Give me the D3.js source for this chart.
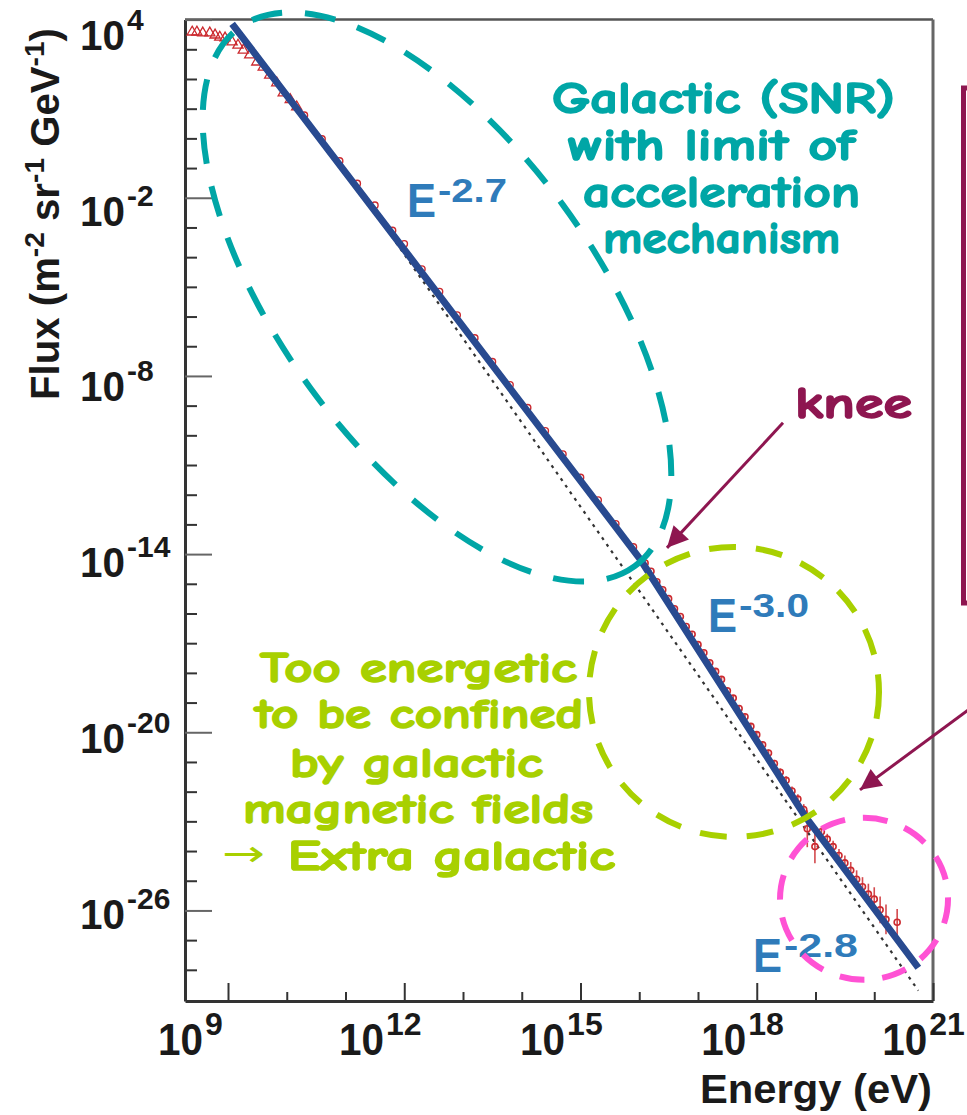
<!DOCTYPE html>
<html><head><meta charset="utf-8">
<script src="https://cdn.jsdelivr.net/npm/d3@7"></script>
<style>html,body{margin:0;padding:0;background:#fff;} svg{display:block;}</style>
</head><body>
<svg id="c" width="967" height="1115"></svg>
<script>
// ---------------- data (log10 values) ----------------
const xTickExps = [9, 12, 15, 18, 21];
const yTickExps = [4, -2, -8, -14, -20, -26];

// broken power-law fit (blue)
const fitLogE = [9.07, 16.005, 18.82, 20.75];
const fitLogF = [3.86, -14.14, -22.82, -27.93];

// reference single power law (dotted)
const refLogE = [11.0, 20.75];
const refLogF = [-1.07, -28.7];

// low-energy measurements (open triangles)
const lowLogE = [8.39, 8.47, 8.57, 8.69, 8.78, 8.86, 8.95, 9.07, 9.17, 9.26, 9.37, 9.49, 9.60, 9.71, 9.83, 9.94, 10.06, 10.17];
const lowLogF = [3.58, 3.58, 3.55, 3.55, 3.48, 3.41, 3.38, 3.25, 3.14, 2.97, 2.81, 2.57, 2.40, 2.13, 1.87, 1.53, 1.30, 1.06];

// mid-energy measurements (open circles)
const midLogE = [10.3, 10.6, 10.9, 11.2, 11.5, 11.8, 12.0, 12.3, 12.6, 12.9, 13.2, 13.5, 13.8, 14.1, 14.4, 14.7, 15.0, 15.3, 15.6, 15.9];
const midLogF = [0.78, -0.02, -0.76, -1.52, -2.25, -3.10, -3.55, -4.40, -5.16, -5.95, -6.72, -7.52, -8.30, -9.07, -9.85, -10.63, -11.42, -12.18, -12.98, -13.76];

// high-energy measurements with error bars
const hiLogE = [16.1, 16.2, 16.3, 16.4, 16.5, 16.6, 16.7, 16.8, 16.9, 17.0,
                17.1, 17.2, 17.3, 17.4, 17.5, 17.6, 17.7, 17.8, 17.9, 18.0,
                18.1, 18.2, 18.3, 18.4, 18.5, 18.6, 18.7, 18.8,
                18.86, 18.99, 19.1, 19.2, 19.3, 19.4, 19.5, 19.6, 19.7, 19.8, 19.9, 20.0, 20.1, 20.2, 20.39];
const hiLogF = [-14.30, -14.58, -14.93, -15.20, -15.50, -15.84, -16.10, -16.44, -16.70, -17.05,
                -17.32, -17.66, -17.95, -18.22, -18.60, -18.85, -19.20, -19.48, -19.80, -20.08,
                -20.42, -20.70, -21.05, -21.35, -21.62, -21.98, -22.25, -22.60,
                -23.25, -23.85, -23.35, -23.60, -23.85, -24.15, -24.40, -24.65, -24.95, -25.20, -25.45, -25.62, -25.98, -26.30, -26.40];
const hiErr  = [0.04, 0.04, 0.05, 0.05, 0.05, 0.06, 0.06, 0.06, 0.07, 0.07,
                0.07, 0.08, 0.08, 0.08, 0.09, 0.09, 0.10, 0.10, 0.10, 0.11,
                0.11, 0.12, 0.12, 0.13, 0.14, 0.15, 0.16, 0.18,
                0.62, 0.56, 0.15, 0.18, 0.20, 0.22, 0.25, 0.28, 0.30, 0.32, 0.35, 0.40, 0.45, 0.50, 0.45];

const slopeLabels = ["-2.7", "-3.0", "-2.8"];
const slopeLogE = [12.047, 17.17, 17.936];
const slopeLogF = [-2.646, -16.62, -28.07];

const tealLines = ["Galactic (SNR)", "with limit of", "acceleration", "mechanism"];
const greenLines = ["Too energetic", "to be confined", "by galactic", "magnetic fields", "Extra galactic"];

// ---------------- drawing ----------------
const svg = d3.select("#c");
const P = e => Math.pow(10, e);
const x = d3.scaleLog().domain([P(8.268), P(21)]).range([185, 933]);
const y = d3.scaleLog().domain([P(-29.05), P(4)]).range([1001, 19.6]);
const X = e => x(P(e)), Y = f => y(P(f));

const axisCol = "#333";
const RED = "#cc2a2f";
const BLUE = "#284a90";
const TEAL = "#00a6a6";
const GREEN = "#a8d000";
const PINK = "#ff52d4";
const MAROON = "#8e1650";
const LBLUE = "#2f7bba";
const annFont = "'Comic Sans MS','Comic Neue',Lato,'Open Sans',sans-serif";
const axFont = "'Liberation Sans',Arial,Helvetica,sans-serif";

// frame top & right
svg.append("line").attr("x1", 185).attr("x2", 933).attr("y1", 19.6).attr("y2", 19.6).attr("stroke", "#555").attr("stroke-width", 2.5);
svg.append("line").attr("x1", 933).attr("x2", 933).attr("y1", 19.6).attr("y2", 1001).attr("stroke", "#666").attr("stroke-width", 3);

// axes ticks
const xMinor = d3.range(9, 22).filter(e => !xTickExps.includes(e)).map(P);
const yMinor = d3.range(-28, 5).filter(e => !yTickExps.includes(e)).map(P);

function styleAxis(g) {
  g.selectAll("line").attr("stroke", axisCol).attr("stroke-width", 2);
  g.selectAll(".domain").attr("stroke", axisCol).attr("stroke-width", 3);
  g.selectAll("text").remove();
}
svg.append("g").attr("transform", "translate(0,1001)")
  .call(d3.axisBottom(x).tickValues(xTickExps.map(P)).tickSize(-18).tickSizeOuter(0).tickFormat(""))
  .call(styleAxis);
svg.append("g").attr("transform", "translate(0,1001)")
  .call(d3.axisBottom(x).tickValues(xMinor).tickSize(-9).tickSizeOuter(0).tickFormat(""))
  .call(styleAxis).call(g => g.select(".domain").remove());
svg.append("g").attr("transform", "translate(185,0)")
  .call(d3.axisLeft(y).tickValues(yTickExps.map(P)).tickSize(-27).tickSizeOuter(0).tickFormat(""))
  .call(styleAxis).call(g => g.selectAll(".tick line").attr("stroke", "#666"));
svg.append("g").attr("transform", "translate(185,0)")
  .call(d3.axisLeft(y).tickValues(yMinor).tickSize(-12).tickSizeOuter(0).tickFormat(""))
  .call(styleAxis).call(g => g.select(".domain").remove());

// tick labels
xTickExps.forEach(e => {
  const lx = X(e) - 70 + (e - 9) * 1.6;
  svg.append("text").attr("x", lx).attr("y", 1055).attr("font-family", axFont).attr("font-weight", "bold")
    .attr("font-size", 44).attr("fill", "#1a1a1a").attr("textLength", 45).attr("lengthAdjust", "spacingAndGlyphs").text("10");
  svg.append("text").attr("x", lx + 47).attr("y", 1035).attr("font-family", axFont).attr("font-weight", "bold")
    .attr("font-size", 32).attr("fill", "#1a1a1a").text(String(e));
});
yTickExps.forEach(e => {
  const by = Y(e) + 30 - (4 - e) * 0.37;
  svg.append("text").attr("x", 80).attr("y", by).attr("font-family", axFont).attr("font-weight", "bold")
    .attr("font-size", 42).attr("fill", "#1a1a1a").attr("textLength", 45).attr("lengthAdjust", "spacingAndGlyphs").text("10");
  svg.append("text").attr("x", 127).attr("y", by - 20).attr("font-family", axFont).attr("font-weight", "bold")
    .attr("font-size", 30).attr("fill", "#1a1a1a").text(String(e));
});

// axis titles
const yt = svg.append("text").attr("transform", "translate(59,400) rotate(-90)")
  .attr("font-family", axFont).attr("font-weight", "bold").attr("font-size", 40).attr("fill", "#1a1a1a")
  .attr("textLength", 372).attr("lengthAdjust", "spacingAndGlyphs");
yt.append("tspan").text("Flux (m");
yt.append("tspan").attr("dy", -15).attr("font-size", 28).text("-2");
yt.append("tspan").attr("dy", 15).text(" sr");
yt.append("tspan").attr("dy", -15).attr("font-size", 28).text("-1");
yt.append("tspan").attr("dy", 15).text(" GeV");
yt.append("tspan").attr("dy", -15).attr("font-size", 28).text("-1");
yt.append("tspan").attr("dy", 15).text(")");
svg.append("text").attr("x", 700).attr("y", 1103).attr("font-family", axFont).attr("font-weight", "bold")
  .attr("font-size", 40).attr("fill", "#1a1a1a").attr("textLength", 232).attr("lengthAdjust", "spacingAndGlyphs").text("Energy (eV)");

// clip for plot marks
svg.append("clipPath").attr("id", "plotclip").append("rect").attr("x", 185).attr("y", 19.6).attr("width", 748).attr("height", 981.4);
const plot = svg.append("g").attr("clip-path", "url(#plotclip)");

// dotted reference line
const line = d3.line().x(d => X(d[0])).y(d => Y(d[1]));
plot.append("path").datum(d3.zip(refLogE, refLogF)).attr("d", line)
  .attr("fill", "none").attr("stroke", "#333").attr("stroke-width", 2.2).attr("stroke-dasharray", "3,5");

// data: triangles
plot.selectAll(".tri").data(d3.zip(lowLogE, lowLogF)).join("path")
  .attr("d", d3.symbol(d3.symbolTriangle, 45))
  .attr("transform", d => `translate(${X(d[0])},${Y(d[1])})`)
  .attr("fill", "none").attr("stroke", RED).attr("stroke-width", 1.3);
// data: circles
plot.selectAll(".mid").data(d3.zip(midLogE, midLogF)).join("circle")
  .attr("cx", d => X(d[0])).attr("cy", d => Y(d[1])).attr("r", 3.2)
  .attr("fill", "none").attr("stroke", RED).attr("stroke-width", 1.4);
// data: high-energy with error bars
const hi = d3.zip(hiLogE, hiLogF, hiErr);
plot.selectAll(".err").data(hi).join("line")
  .attr("x1", d => X(d[0])).attr("x2", d => X(d[0]))
  .attr("y1", d => Y(d[1] + d[2])).attr("y2", d => Y(d[1] - d[2]))
  .attr("stroke", RED).attr("stroke-width", 1.6).attr("opacity", 0.85);
plot.selectAll(".hi").data(hi).join("circle")
  .attr("cx", d => X(d[0])).attr("cy", d => Y(d[1])).attr("r", 3)
  .attr("fill", "none").attr("stroke", RED).attr("stroke-width", 1.6);

// fit line
plot.append("path").datum(d3.zip(fitLogE, fitLogF)).attr("d", line)
  .attr("fill", "none").attr("stroke", BLUE).attr("stroke-width", 7).attr("stroke-linejoin", "round");

// slope labels
const eTL = [29, 29, 29], supTL = [69, 70, 74];
slopeLabels.forEach((s, i) => {
  const ex = X(slopeLogE[i]), ey = Y(slopeLogF[i]);
  svg.append("text").attr("x", ex).attr("y", ey).attr("font-family", axFont).attr("font-weight", "bold")
    .attr("font-size", 48).attr("fill", LBLUE).attr("textLength", eTL[i]).attr("lengthAdjust", "spacingAndGlyphs").text("E");
  svg.append("text").attr("x", ex + 31).attr("y", ey - 15).attr("font-family", axFont).attr("font-weight", "bold")
    .attr("font-size", 33).attr("fill", LBLUE).attr("textLength", supTL[i]).attr("lengthAdjust", "spacingAndGlyphs").text(s);
});

// annotation ellipses
svg.append("ellipse").attr("transform", `translate(${X(12.557)},${Y(-5.34)}) rotate(53.7)`)
  .attr("rx", 334).attr("ry", 156).attr("fill", "none").attr("stroke", TEAL).attr("stroke-width", 6).attr("stroke-dasharray", "31,23");
svg.append("ellipse").attr("cx", X(17.613)).attr("cy", Y(-18.64)).attr("rx", 145).attr("ry", 145)
  .attr("fill", "none").attr("stroke", GREEN).attr("stroke-width", 6).attr("stroke-dasharray", "27,20");
svg.append("ellipse").attr("cx", X(19.826)).attr("cy", Y(-25.61)).attr("rx", 84).attr("ry", 81)
  .attr("fill", "none").attr("stroke", PINK).attr("stroke-width", 6).attr("stroke-dasharray", "25,18");

// teal text
const tealX = [552, 568, 583, 603], tealW = [343, 287, 277, 237], tealY = [113, 160, 207, 253];
tealLines.forEach((t, i) => {
  svg.append("text").attr("x", tealX[i]).attr("y", tealY[i]).attr("font-family", annFont).attr("font-weight", "bold")
    .attr("font-size", 44).attr("fill", TEAL).attr("stroke", TEAL).attr("stroke-width", 1.6)
    .attr("textLength", tealW[i]).attr("lengthAdjust", "spacingAndGlyphs").text(t);
});
// green text
const grX = [260, 255, 290, 243, 288], grW = [317, 328, 253, 350, 327], grY = [682, 728, 777, 823, 870];
greenLines.forEach((t, i) => {
  svg.append("text").attr("x", grX[i]).attr("y", grY[i]).attr("font-family", annFont).attr("font-weight", "bold")
    .attr("font-size", 42).attr("fill", GREEN).attr("stroke", GREEN).attr("stroke-width", 1.6)
    .attr("textLength", grW[i]).attr("lengthAdjust", "spacingAndGlyphs").text(t);
});
svg.append("text").attr("x", 222).attr("y", 866).attr("font-family", "'DejaVu Sans',sans-serif")
  .attr("font-size", 36).attr("fill", GREEN).attr("textLength", 43).attr("lengthAdjust", "spacingAndGlyphs").text("→");

// knee text
svg.append("text").attr("x", 795).attr("y", 418).attr("font-family", annFont).attr("font-weight", "bold")
  .attr("font-size", 44).attr("fill", MAROON).attr("stroke", MAROON).attr("stroke-width", 1.6)
  .attr("textLength", 117).attr("lengthAdjust", "spacingAndGlyphs").text("knee");

// arrows
const defs = svg.append("defs");
defs.append("marker").attr("id", "ah").attr("viewBox", "0 0 10 10").attr("refX", 10).attr("refY", 5)
  .attr("markerWidth", 8).attr("markerHeight", 7).attr("markerUnits", "strokeWidth").attr("orient", "auto")
  .append("path").attr("d", "M0,0 L10,5 L0,10 z").attr("fill", MAROON);
svg.append("line").attr("x1", X(18.447)).attr("y1", Y(-9.58)).attr("x2", X(16.472)).attr("y2", Y(-13.79))
  .attr("stroke", MAROON).attr("stroke-width", 3).attr("marker-end", "url(#ah)");
svg.append("line").attr("x1", X(21.6)).attr("y1", Y(-19.25)).attr("x2", X(19.757)).attr("y2", Y(-21.94))
  .attr("stroke", MAROON).attr("stroke-width", 3).attr("marker-end", "url(#ah)");

// cut-off box at right
svg.append("rect").attr("x", 963.5).attr("y", 88).attr("width", 60).attr("height", 515)
  .attr("fill", "none").attr("stroke", MAROON).attr("stroke-width", 5);
</script>
</body></html>
